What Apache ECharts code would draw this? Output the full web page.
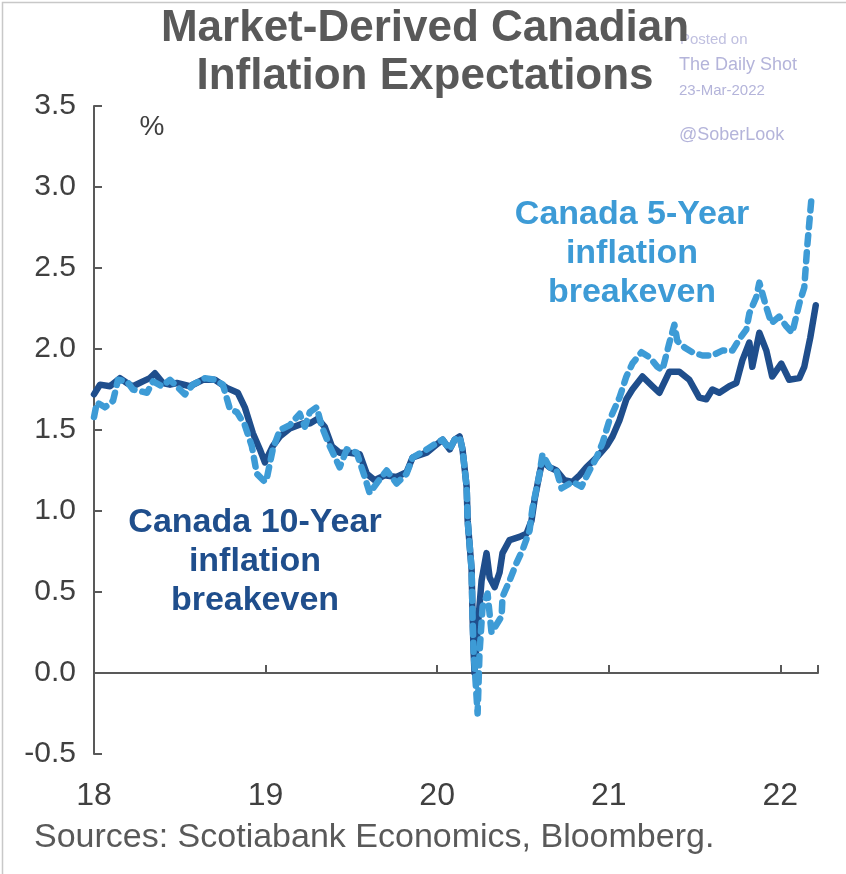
<!DOCTYPE html>
<html>
<head>
<meta charset="utf-8">
<script src="https://cdn.jsdelivr.net/npm/echarts@6/dist/echarts.min.js"></script>
<style>
html,body{margin:0;padding:0;background:#fff;}
#chart{width:846px;height:874px;}
</style>
</head>
<body>
<div id="chart"></div>
<script>
// Canada 10-year inflation breakeven (years as 18 = 2018)
var dates10 = [18.000,18.035,18.093,18.151,18.192,18.227,18.285,18.326,18.355,18.402,18.443,18.483,18.559,18.635,18.705,18.774,18.838,18.879,18.926,18.967,18.996,19.042,19.083,19.141,19.217,19.258,19.304,19.345,19.386,19.432,19.491,19.549,19.590,19.636,19.694,19.764,19.822,19.857,19.939,19.997,20.032,20.073,20.102,20.131,20.148,20.172,20.178,20.201,20.207,20.213,20.218,20.236,20.259,20.288,20.306,20.335,20.364,20.381,20.422,20.480,20.521,20.550,20.568,20.597,20.614,20.655,20.696,20.742,20.789,20.830,20.870,20.929,20.987,21.022,21.063,21.103,21.138,21.197,21.255,21.295,21.354,21.412,21.470,21.528,21.569,21.604,21.645,21.703,21.744,21.779,21.820,21.837,21.878,21.919,21.953,22.006,22.052,22.111,22.140,22.175,22.207];
var cad10 = [1.72,1.78,1.77,1.82,1.79,1.77,1.80,1.82,1.85,1.79,1.78,1.79,1.77,1.81,1.81,1.76,1.73,1.64,1.48,1.38,1.30,1.40,1.46,1.51,1.54,1.54,1.57,1.52,1.40,1.36,1.36,1.35,1.23,1.19,1.22,1.21,1.24,1.33,1.36,1.41,1.44,1.38,1.44,1.46,1.38,1.15,0.94,0.64,0.33,0.12,0.00,0.27,0.57,0.74,0.59,0.53,0.62,0.74,0.82,0.84,0.86,0.94,1.07,1.23,1.31,1.27,1.25,1.19,1.18,1.22,1.27,1.33,1.40,1.46,1.56,1.69,1.75,1.83,1.77,1.73,1.86,1.86,1.81,1.70,1.69,1.75,1.73,1.77,1.79,1.93,2.04,1.89,2.10,1.99,1.83,1.91,1.81,1.82,1.89,2.07,2.27];

// Canada 5-year inflation breakeven
var dates5 = [18.000,18.017,18.064,18.111,18.140,18.192,18.227,18.309,18.344,18.396,18.443,18.530,18.576,18.646,18.705,18.751,18.792,18.833,18.879,18.920,18.949,18.996,19.007,19.042,19.083,19.141,19.199,19.229,19.258,19.298,19.328,19.374,19.432,19.473,19.531,19.578,19.607,19.654,19.706,19.764,19.822,19.857,19.939,19.997,20.032,20.073,20.102,20.131,20.148,20.172,20.178,20.201,20.207,20.213,20.224,20.236,20.247,20.265,20.294,20.317,20.335,20.376,20.381,20.422,20.463,20.498,20.539,20.556,20.597,20.614,20.655,20.696,20.725,20.789,20.841,20.888,20.929,20.964,21.004,21.063,21.103,21.138,21.191,21.237,21.284,21.313,21.354,21.383,21.400,21.441,21.488,21.546,21.604,21.662,21.721,21.761,21.802,21.820,21.860,21.878,21.918,21.948,21.994,22.035,22.070,22.111,22.140,22.157,22.181];
var cad5 = [1.58,1.67,1.64,1.68,1.81,1.80,1.75,1.73,1.80,1.77,1.81,1.72,1.78,1.82,1.81,1.78,1.63,1.61,1.53,1.40,1.23,1.18,1.20,1.38,1.50,1.53,1.60,1.52,1.61,1.64,1.52,1.40,1.27,1.38,1.36,1.21,1.11,1.18,1.25,1.17,1.23,1.33,1.38,1.42,1.44,1.38,1.44,1.46,1.38,1.15,0.94,0.64,0.33,0.12,-0.05,-0.25,0.12,0.41,0.49,0.25,0.28,0.35,0.47,0.57,0.68,0.76,0.88,1.02,1.23,1.35,1.27,1.25,1.14,1.18,1.15,1.25,1.33,1.42,1.56,1.70,1.83,1.91,1.98,1.95,1.89,1.87,2.04,2.15,2.05,2.01,1.98,1.96,1.96,1.99,1.99,2.06,2.12,2.22,2.32,2.41,2.26,2.16,2.20,2.14,2.10,2.28,2.38,2.63,2.92];

var xTicks = [18, 19, 20, 21, 22];
var yTicks = [-0.5, 0, 0.5, 1.0, 1.5, 2.0, 2.5, 3.0, 3.5];

var data10 = dates10.map(function (d, i) { return [d, cad10[i]]; });
var data5 = dates5.map(function (d, i) { return [d, cad5[i]]; });

var FONT = '"Liberation Sans", Arial, sans-serif';
var chart = echarts.init(document.getElementById('chart'), null, {renderer: 'canvas'});

function txt(x, y, s, color, font, align, z) {
  return {type: 'text', x: x, y: y, z: z || 10, silent: true,
    style: {text: s, fill: color, font: font, textAlign: align || 'center', textVerticalAlign: 'middle'}};
}

var option = {
  animation: false,
  backgroundColor: '#ffffff',
  grid: {left: 94, right: 28, top: 106, bottom: 120, containLabel: false},
  xAxis: [{
    type: 'value', min: 18, max: 22.22, interval: 1,
    axisLine: {show: true, onZero: true, lineStyle: {color: '#595959', width: 2}},
    axisTick: {show: true, inside: true, length: 8, lineStyle: {color: '#595959', width: 2}},
    axisLabel: {show: false},
    splitLine: {show: false}
  }, {
    type: 'value', min: 18, max: 22.22, interval: 1, position: 'bottom',
    axisLine: {show: false, onZero: false},
    axisTick: {show: false},
    axisLabel: {
      show: true, margin: 26, color: '#404040', fontSize: 32, fontFamily: FONT,
      formatter: function (v) { return xTicks.indexOf(v) >= 0 ? String(v) : ''; }
    },
    splitLine: {show: false}
  }],
  yAxis: {
    type: 'value', min: -0.5, max: 3.5, interval: 0.5,
    axisLine: {show: true, onZero: false, lineStyle: {color: '#595959', width: 2}},
    axisTick: {show: true, inside: true, length: 8, lineStyle: {color: '#595959', width: 2}},
    axisLabel: {
      show: true, margin: 18, color: '#404040', fontSize: 30, fontFamily: FONT,
      formatter: function (v) { return yTicks.indexOf(v) >= 0 ? v.toFixed(1) : ''; }
    },
    splitLine: {show: false}
  },
  series: [{
    name: 'Canada 10-Year inflation breakeven',
    type: 'line', xAxisIndex: 0, data: data10, showSymbol: false, smooth: false,
    lineStyle: {color: '#1f4e8c', width: 6.5, cap: 'round', join: 'round'},
    z: 2
  }, {
    name: 'Canada 5-Year inflation breakeven',
    type: 'line', xAxisIndex: 0, data: data5, showSymbol: false, smooth: false,
    lineStyle: {color: '#3d9bd6', width: 6.5, type: [9, 8], cap: 'round', join: 'round'},
    z: 3
  }],
  graphic: [
    {type: 'rect', left: 0, top: 0, z: 0, silent: true,
     shape: {x: 0.5, y: 0.5, width: 845, height: 873},
     style: {fill: 'none', stroke: '#c8c8c8', lineWidth: 1.5}},
    txt(680, 40, 'Posted on', '#c0c0e0', '15px ' + FONT, 'left', 1),
    txt(679, 65, 'The Daily Shot', '#b4b4da', '18px ' + FONT, 'left', 1),
    txt(679, 91, '23-Mar-2022', '#b4b4da', '15px ' + FONT, 'left', 1),
    txt(679, 135, '@SoberLook', '#b4b4da', '18px ' + FONT, 'left', 1),
    txt(425, 29, 'Market-Derived Canadian', '#595959', 'bold 44px ' + FONT),
    txt(425, 77, 'Inflation Expectations', '#595959', 'bold 44px ' + FONT),
    txt(152, 127, '%', '#404040', '28px ' + FONT),
    txt(632, 215, 'Canada 5-Year', '#3d9bd6', 'bold 34px ' + FONT),
    txt(632, 254, 'inflation', '#3d9bd6', 'bold 34px ' + FONT),
    txt(632, 293, 'breakeven', '#3d9bd6', 'bold 34px ' + FONT),
    txt(255, 523, 'Canada 10-Year', '#1f4e8c', 'bold 34px ' + FONT),
    txt(255, 562, 'inflation', '#1f4e8c', 'bold 34px ' + FONT),
    txt(255, 601, 'breakeven', '#1f4e8c', 'bold 34px ' + FONT),
    txt(34, 838, 'Sources: Scotiabank Economics, Bloomberg.', '#595959', '34px ' + FONT, 'left')
  ]
};
chart.setOption(option);
</script>
</body>
</html>
